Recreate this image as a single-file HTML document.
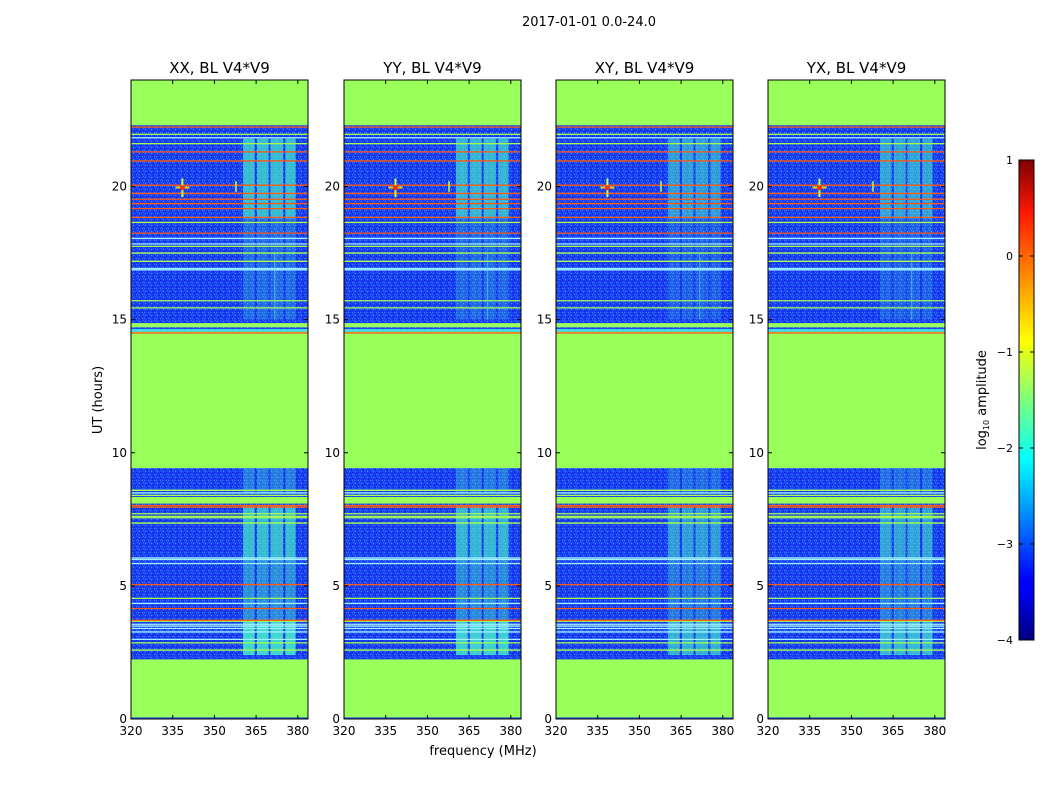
<!DOCTYPE html>
<html><head><meta charset="utf-8">
<style>
html,body{margin:0;padding:0;background:#fff;}
svg text{font-family:"DejaVu Sans","Liberation Sans",sans-serif;fill:#000;}
</style></head>
<body>
<svg id="chart" xmlns="http://www.w3.org/2000/svg" width="1050" height="800" viewBox="0 0 1050 800">
<defs>
<linearGradient id="jet" x1="0" y1="1" x2="0" y2="0">
<stop offset="0" stop-color="#000080"/><stop offset="0.11" stop-color="#0000ff"/>
<stop offset="0.125" stop-color="#0000ff"/><stop offset="0.34" stop-color="#00dcff"/>
<stop offset="0.375" stop-color="#00ffff"/><stop offset="0.5" stop-color="#7dff7a"/>
<stop offset="0.625" stop-color="#ffff00"/><stop offset="0.66" stop-color="#ffe000"/>
<stop offset="0.89" stop-color="#ff1800"/><stop offset="1" stop-color="#800000"/>
</linearGradient>
<pattern id="noise" width="6" height="6" patternUnits="userSpaceOnUse">
<rect width="6" height="6" fill="#1a40f2"/>
<rect x="0" y="0" width="1" height="1" fill="#2f80ff"/><rect x="3" y="1" width="1" height="1" fill="#0a1ad8"/>
<rect x="1" y="3" width="1" height="1" fill="#3a94ff"/><rect x="4" y="4" width="1" height="1" fill="#0d22e0"/>
<rect x="5" y="2" width="1" height="1" fill="#2b70f8"/><rect x="2" y="5" width="1" height="1" fill="#0b1cd0"/>
<rect x="4" y="0" width="1" height="1" fill="#3088ff"/>
</pattern>
</defs>
<text x="589" y="26" font-size="13" text-anchor="middle">2017-01-01 0.0-24.0</text>
<text transform="translate(102,400) rotate(-90)" font-size="13" text-anchor="middle">UT (hours)</text>
<text x="483" y="755" font-size="13" text-anchor="middle">frequency (MHz)</text>
<g id="panels"></g>
<g>
<rect x="1019" y="160" width="15" height="480" fill="url(#jet)" stroke="#000" stroke-width="1"/>
<g id="cbticks"></g>
<text transform="translate(986,400) rotate(-90)" font-size="13" text-anchor="middle">log<tspan font-size="8" dy="3">10</tspan><tspan dy="-3"> amplitude</tspan></text>
</g>
</svg>
<script>
const panelTitles=["XX, BL V4*V9","YY, BL V4*V9","XY, BL V4*V9","YX, BL V4*V9"];
const panelLefts=[131,344,556,768];
const xTicks=[320,335,350,365,380];
const yTicks=[0,5,10,15,20];
const cbTicks=[1,0,-1,-2,-3,-4];
const dataBlocks=[[2.24,9.42],[14.55,22.3]];
const greenBlocks=[[14.71,14.87],[8.09,8.34]];
const cyanBlocks=[[14.55,14.65]];
const redLines=[22.23,20.96,21.30,20.05,19.74,19.52,19.36,19.17,18.84,18.25,14.50,8.02,7.96,5.05,4.15,3.71];
const greenLines=[21.96,21.61,18.65,17.75,17.50,17.19,15.71,15.44,8.59,8.40,7.71,7.61,7.56,7.36,4.53,3.67,2.86,2.59];
const cyanLines=[21.83,18.05,17.84,16.92,16.87,8.49,6.05,5.99,5.84,4.34,3.56,3.49,3.40,3.27,2.99];
const bandFreqs=[[360.3,364.5],[365.3,369.5],[370.2,374.7],[375.5,379.2]];
const bandSegs=[[2.4,3.7,0.85],[3.7,6.0,0.45],[6.0,8.0,0.7],[8.5,9.42,0.35],[15.0,18.8,0.25],[18.8,21.8,0.7]];
const panelBand=[1.0,0.95,0.75,0.8];

const NS="http://www.w3.org/2000/svg";
const W=177,TOP=80,BOT=719;
function yS(h){return BOT-(h/24)*(BOT-TOP);}
function mk(tag,attrs,parent){const e=document.createElementNS(NS,tag);for(const k in attrs)e.setAttribute(k,attrs[k]);parent.appendChild(e);return e;}
const panels=document.getElementById('panels');
panelTitles.forEach((t,i)=>{
  const L=panelLefts[i];
  const xS=f=>L+(f-320)*2.78;
  const g=mk('g',{},panels);
  
  
  mk('rect',{x:L,y:TOP,width:W,height:BOT-TOP,fill:'#99ff5a'},g);
  mk('rect',{x:L,y:yS(0.06),width:W,height:yS(0)-yS(0.06),fill:'#2050f0'},g);
  dataBlocks.forEach(b=>{const r=mk('rect',{x:L,y:yS(b[1]),width:W,height:yS(b[0])-yS(b[1]),fill:'url(#noise)'},g);
    });
  bandSegs.forEach(s=>bandFreqs.forEach(bf=>{
    mk('rect',{x:xS(bf[0]),y:yS(s[1]),width:xS(bf[1])-xS(bf[0]),height:yS(s[0])-yS(s[1]),fill:'#48f0c8',opacity:s[2]*panelBand[i]},g);
  }));
  greenBlocks.forEach(b=>mk('rect',{x:L,y:yS(b[1]),width:W,height:yS(b[0])-yS(b[1]),fill:'#99ff5a'},g));
  cyanBlocks.forEach(b=>mk('rect',{x:L,y:yS(b[1]),width:W,height:yS(b[0])-yS(b[1]),fill:'#40d8f0'},g));
  const lines=[[cyanLines,'#a0f0ff'],[greenLines,'#a8ff50'],[redLines,'#ff5a10']];
  lines.forEach(([arr,c])=>arr.forEach(h=>{
    const l=mk('line',{x1:L,x2:L+W,y1:yS(h),y2:yS(h),stroke:c,'stroke-width':1.3},g);
    
  }));
  mk('rect',{x:xS(338.5)-1,y:yS(20.3),width:2,height:yS(19.6)-yS(20.3),fill:'#d0ff40'},g);
  mk('rect',{x:xS(336),y:yS(20.0),width:xS(341)-xS(336),height:2,fill:'#ffd000'},g);
  mk('circle',{cx:xS(338.5),cy:yS(19.95),r:2.5,fill:'#ff3000'},g);
  mk('rect',{x:xS(357.5),y:yS(20.2),width:1.5,height:yS(19.8)-yS(20.2),fill:'#c0ff40'},g);
  mk('rect',{x:xS(371.5),y:yS(17.5),width:1,height:yS(15)-yS(17.5),fill:'#60e0e0',opacity:0.6},g);
  mk('rect',{x:L,y:TOP,width:W,height:BOT-TOP,fill:'none',stroke:'#000','stroke-width':1},g);
  const tt=mk('text',{x:L+W/2,y:73,'font-size':15,'text-anchor':'middle'},g);tt.textContent=t;
  
  xTicks.forEach(v=>{const x=xS(v);
    mk('line',{x1:x,x2:x,y1:BOT,y2:BOT-4,stroke:'#000'},g);mk('line',{x1:x,x2:x,y1:TOP,y2:TOP+4,stroke:'#000'},g);
    const tx=mk('text',{x:x,y:BOT+16,'font-size':12,'text-anchor':'middle'},g);tx.textContent=v;
    });
  yTicks.forEach(v=>{const y=yS(v);
    mk('line',{x1:L,x2:L+4,y1:y,y2:y,stroke:'#000'},g);mk('line',{x1:L+W,x2:L+W-4,y1:y,y2:y,stroke:'#000'},g);
    const ty=mk('text',{x:L-4,y:y+4,'font-size':12,'text-anchor':'end'},g);ty.textContent=v;
    });
});
const cb=document.getElementById('cbticks');
cbTicks.forEach(v=>{const y=160+(1-v)/5*480;
  mk('line',{x1:1019,x2:1023,y1:y,y2:y,stroke:'#000'},cb);mk('line',{x1:1034,x2:1030,y1:y,y2:y,stroke:'#000'},cb);
  const t=mk('text',{x:1013,y:y+4,'font-size':11,'text-anchor':'end'},cb);t.textContent=(v<0?'\u2212'+(-v):v);
  });
</script>
</body></html>
